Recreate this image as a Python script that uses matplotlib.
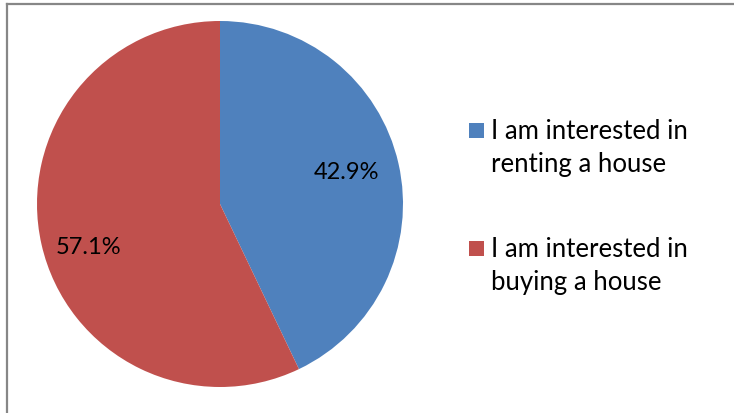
import matplotlib.pyplot as plt
from matplotlib.patches import Rectangle
from matplotlib.lines import Line2D

labels = ["I am interested in\nrenting a house", "I am interested in\nbuying a house"]
shares = [42.9, 57.1]
colors = ["#4f81bd", "#c0504d"]

plt.rcParams['font.family'] = ['Lato', 'DejaVu Sans']

fig = plt.figure(figsize=(7.34, 4.14), dpi=100)
W, H = 734, 414

# pie axes: center (220, 205), radius 183 px
r = 183
ax = fig.add_axes([(220 - r) / W, 1 - (205 + r) / H, 2 * r / W, 2 * r / H])
wedges, texts, autotexts = ax.pie(shares, colors=colors, startangle=90, counterclock=False,
                                  autopct='%1.1f%%', pctdistance=0.75,
                                  textprops={'fontsize': 17, 'color': 'black'},
                                  wedgeprops={'linewidth': 0})
ax.set_aspect('equal')
ax.set_xlim(-1, 1)
ax.set_ylim(-1, 1)

# move percentage labels where the original has them
autotexts[0].set_position((0.69, 0.18))
autotexts[1].set_position((-0.72, -0.23))

# legend, drawn by hand so the square sits on the first line
for i, (lab, col) in enumerate(zip(labels, colors)):
    y0 = 124 + 118 * i
    fig.add_artist(Rectangle((469 / W, 1 - (y0 + 15) / H), 15 / W, 15 / H,
                             facecolor=col, edgecolor='none', transform=fig.transFigure))
    for j, line in enumerate(lab.split("\n")):
        fig.text(491 / W, 1 - (y0 + 15 + 32.7 * j) / H, line, fontsize=18.5,
                 va='baseline', ha='left', color='black')

# outer border (only top and left visible)
fig.add_artist(Line2D([6.5 / W, 6.5 / W], [0, 1 - 4.5 / H], color='#878787', lw=1.6,
                      transform=fig.transFigure))
fig.add_artist(Line2D([6.5 / W, 1], [1 - 4.5 / H, 1 - 4.5 / H], color='#878787', lw=1.6,
                      transform=fig.transFigure))

fig.savefig("out.png", dpi=100)
